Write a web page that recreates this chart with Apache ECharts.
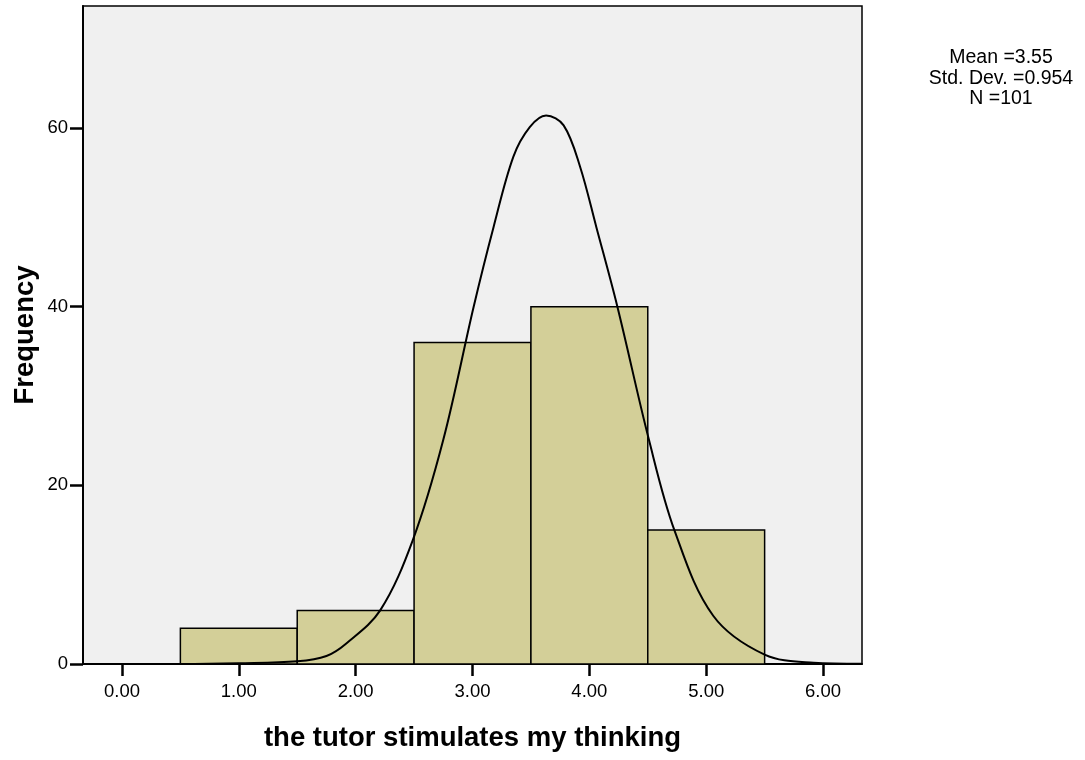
<!DOCTYPE html>
<html>
<head>
<meta charset="utf-8">
<style>
  html, body { margin: 0; padding: 0; background: #fff; }
  #main { width: 1085px; height: 760px; }
</style>
<script src="https://cdn.jsdelivr.net/npm/echarts@6/dist/echarts.min.js"></script>
</head>
<body>
<div id="main"></div>
<script>
// histogram bins
var binStart = [0.5, 1.5, 2.5, 3.5, 4.5];
var binEnd = [1.5, 2.5, 3.5, 4.5, 5.5];
var counts = [4, 6, 36, 40, 15];

// normal curve, points
var curveX = [-0.33, 0.5, 1.0, 1.5, 1.75, 1.92, 2.21, 2.49, 2.75, 3.01, 3.18, 3.35, 3.49, 3.63, 3.78, 3.92, 4.06, 4.24, 4.51, 4.73, 5.06, 5.5, 5.92, 6.33];
var curveY = [0, 0, 0.08, 0.3, 0.9, 2.3, 6.0, 13.9, 25.1, 40.0, 48.9, 56.8, 60.1, 61.4, 60.3, 55.7, 48.9, 40.0, 25.1, 14.9, 5.4, 1.05, 0.15, 0.02];

var xTicks = [0, 1, 2, 3, 4, 5, 6];
var yTicks = [0, 20, 40, 60];
var statsText = ['Mean =3.55', 'Std. Dev. =0.954', 'N =101'];

var FONT = 'Arial, "Liberation Sans", sans-serif';

var bars = [];
for (var i = 0; i < counts.length; i++) {
    bars.push([binStart[i], binEnd[i], counts[i]]);
}
var curve = [];
for (var j = 0; j < curveX.length; j++) {
    curve.push([curveX[j], curveY[j]]);
}

// 右上角统计文字
var stats = [];
for (var k = 0; k < statsText.length; k++) {
    stats.push({
        type: 'text',
        x: 1001,
        y: 58 + k * 20.5,
        style: {
            text: statsText[k],
            font: '19.5px ' + FONT,
            fill: '#000',
            align: 'center',
            verticalAlign: 'middle'
        }
    });
}

var myChart = echarts.init(document.getElementById('main'));
var option = {
    animation: false,
    backgroundColor: '#fff',
    textStyle: { fontFamily: FONT },
    grid: {
        left: 83,
        right: 223,
        top: 6,
        bottom: 96,
        show: true,
        backgroundColor: '#F0F0F0',
        borderColor: '#000',
        borderWidth: 1.5
    },
    graphic: stats,
    xAxis: {
        type: 'value',
        min: -1 / 3,
        max: 6 + 1 / 3,
        name: 'the tutor stimulates my thinking',
        nameLocation: 'middle',
        nameGap: 60,
        nameMoveOverlap: false,
        nameTextStyle: { fontSize: 27.5, fontWeight: 'bold', color: '#000', fontFamily: FONT },
        axisLine: { show: true, onZero: false, lineStyle: { color: '#000', width: 2 } },
        axisTick: { show: true, length: 12, customValues: xTicks, lineStyle: { color: '#000', width: 2.5 } },
        axisLabel: {
            customValues: xTicks,
            margin: 18,
            fontSize: 18.5,
            color: '#000',
            fontFamily: FONT,
            formatter: function (v) { return v.toFixed(2); }
        },
        splitLine: { show: false }
    },
    yAxis: {
        type: 'value',
        min: 0,
        max: 73.66,
        name: 'Frequency',
        nameLocation: 'middle',
        nameGap: 44,
        nameMoveOverlap: false,
        nameTextStyle: { fontSize: 27.5, fontWeight: 'bold', color: '#000', fontFamily: FONT },
        axisLine: { show: true, onZero: false, lineStyle: { color: '#000', width: 2 } },
        axisTick: { show: true, length: 13, customValues: yTicks, lineStyle: { color: '#000', width: 2.5 } },
        axisLabel: {
            customValues: yTicks,
            margin: 15,
            fontSize: 18.5,
            color: '#000',
            fontFamily: FONT
        },
        splitLine: { show: false }
    },
    series: [
        {
            type: 'custom',
            data: bars,
            encode: { x: [0, 1], y: 2 },
            renderItem: function (params, api) {
                var p0 = api.coord([api.value(0), api.value(2)]);
                var p1 = api.coord([api.value(1), 0]);
                return {
                    type: 'rect',
                    shape: { x: p0[0], y: p0[1], width: p1[0] - p0[0], height: p1[1] - p0[1] },
                    style: { fill: '#D3CF98', stroke: '#000', lineWidth: 1.5 }
                };
            },
            z: 2
        },
        {
            type: 'line',
            data: curve,
            smooth: 0.35,
            showSymbol: false,
            symbol: 'none',
            lineStyle: { color: '#000', width: 2 },
            z: 3
        }
    ]
};
myChart.setOption(option);
</script>
</body>
</html>
